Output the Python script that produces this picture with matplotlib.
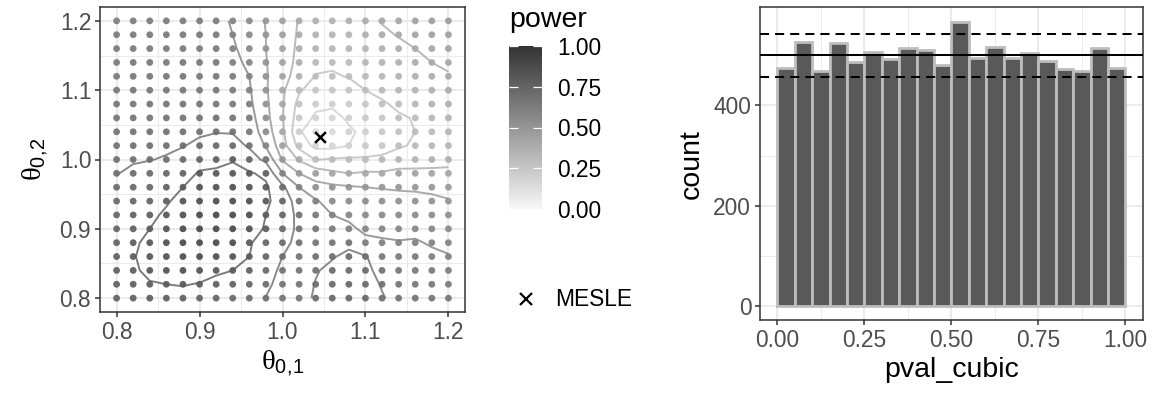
import numpy as np
import matplotlib
matplotlib.use('Agg')
import matplotlib.pyplot as plt
from matplotlib.colors import LinearSegmentedColormap
from matplotlib.lines import Line2D

plt.rcParams['font.family'] = ['Liberation Sans', 'DejaVu Sans']
plt.rcParams['mathtext.fontset'] = 'custom'
plt.rcParams['mathtext.rm'] = 'Liberation Serif'
plt.rcParams['mathtext.sf'] = 'Liberation Sans'

# ---- left panel data: power on a 21 x 21 grid ----
theta1 = [0.80, 0.82, 0.84, 0.86, 0.88, 0.90, 0.92, 0.94, 0.96, 0.98, 1.00,
          1.02, 1.04, 1.06, 1.08, 1.10, 1.12, 1.14, 1.16, 1.18, 1.20]
theta2 = [0.80, 0.82, 0.84, 0.86, 0.88, 0.90, 0.92, 0.94, 0.96, 0.98, 1.00,
          1.02, 1.04, 1.06, 1.08, 1.10, 1.12, 1.14, 1.16, 1.18, 1.20]
# rows listed from theta2 = 1.20 (top) down to 0.80 (bottom)
power_rows = [
    [.62, .625, .63, .63, .63, .63, .63, .59, .55, .495, .445, .395, .365, .35, .36, .38, .405, .42, .435, .45, .46],
    [.625, .63, .635, .635, .635, .635, .635, .60, .56, .50, .445, .39, .355, .345, .35, .365, .385, .405, .42, .435, .445],
    [.63, .635, .64, .64, .64, .64, .64, .61, .57, .50, .44, .385, .345, .335, .34, .35, .365, .38, .40, .415, .43],
    [.635, .64, .645, .645, .645, .645, .645, .62, .585, .505, .435, .38, .325, .315, .32, .335, .35, .365, .38, .40, .41],
    [.64, .645, .65, .65, .65, .65, .65, .63, .60, .51, .43, .365, .295, .29, .305, .32, .335, .35, .365, .38, .395],
    [.645, .65, .655, .66, .655, .655, .655, .64, .61, .51, .415, .31, .26, .25, .26, .30, .32, .335, .35, .365, .38],
    [.65, .66, .665, .665, .665, .665, .665, .655, .62, .52, .41, .27, .22, .21, .22, .25, .29, .315, .335, .35, .36],
    [.66, .665, .67, .675, .675, .675, .68, .67, .64, .53, .405, .25, .185, .18, .21, .23, .25, .29, .305, .325, .34],
    [.67, .675, .68, .685, .685, .69, .697, .695, .66, .55, .42, .21, .15, .15, .19, .215, .24, .27, .30, .315, .33],
    [.68, .685, .69, .69, .697, .715, .73, .73, .69, .59, .44, .27, .17, .17, .20, .23, .25, .29, .31, .325, .34],
    [.69, .695, .698, .705, .725, .76, .775, .795, .74, .68, .49, .39, .295, .31, .315, .315, .325, .34, .345, .36, .375],
    [.698, .71, .72, .735, .76, .81, .815, .82, .81, .78, .60, .50, .46, .42, .40, .41, .41, .43, .43, .425, .42],
    [.71, .725, .74, .76, .80, .84, .845, .85, .84, .815, .72, .60, .53, .52, .51, .50, .495, .49, .488, .485, .475],
    [.725, .74, .76, .79, .83, .865, .87, .87, .86, .82, .75, .66, .61, .56, .54, .54, .535, .53, .525, .515, .505],
    [.74, .76, .78, .815, .855, .88, .885, .88, .87, .80, .745, .68, .645, .60, .58, .56, .56, .555, .55, .54, .53],
    [.755, .775, .80, .835, .87, .89, .89, .88, .865, .785, .735, .685, .665, .63, .62, .58, .58, .575, .575, .565, .555],
    [.765, .79, .815, .845, .875, .885, .885, .87, .81, .755, .72, .68, .675, .665, .685, .625, .61, .605, .61, .59, .58],
    [.77, .795, .825, .845, .865, .87, .86, .84, .80, .745, .70, .675, .685, .695, .715, .705, .66, .64, .63, .62, .605],
    [.77, .79, .815, .83, .845, .84, .815, .80, .77, .73, .685, .67, .695, .715, .73, .715, .68, .66, .65, .64, .625],
    [.765, .78, .795, .80, .805, .795, .775, .76, .74, .715, .675, .67, .703, .725, .74, .725, .695, .675, .66, .65, .64],
    [.76, .77, .78, .775, .77, .76, .745, .73, .72, .698, .67, .67, .71, .73, .74, .73, .705, .68, .67, .66, .65],
]
contour_levels = [0.2, 0.3, 0.4, 0.5, 0.6, 0.7, 0.8]
mesle_x, mesle_y = 1.045, 1.033

# ---- right panel data: histogram of pval_cubic ----
bin_edges = [0.00, 0.05, 0.10, 0.15, 0.20, 0.25, 0.30, 0.35, 0.40, 0.45, 0.50,
             0.55, 0.60, 0.65, 0.70, 0.75, 0.80, 0.85, 0.90, 0.95, 1.00]
counts = [474, 526, 469, 524, 486, 507, 493, 514, 511, 480,
          567, 494, 517, 495, 504, 489, 473, 469, 514, 474]
expected = 500
band_low, band_high = 457.3, 542.7

tick_fs = 16.4
title_fs = 20.5
grid_c = '#ebebeb'
border_c = '#333333'
cmap = LinearSegmentedColormap.from_list('power', ['#f7f7f7', '#333333'])


def style_axes(ax):
    ax.set_axisbelow(True)
    ax.grid(which='major', color=grid_c, linewidth=1.45)
    ax.grid(which='minor', color=grid_c, linewidth=0.75)
    for s in ax.spines.values():
        s.set_color(border_c)
        s.set_linewidth(1.1)
    ax.tick_params(which='major', length=3.8, width=1.1, color=border_c,
                   labelcolor='#4d4d4d', labelsize=tick_fs, pad=2.5)
    ax.tick_params(which='minor', length=0)


fig = plt.figure(figsize=(11.54, 3.93), dpi=100)

# left panel
ax1 = fig.add_axes([100 / 1154, 1 - 312 / 393, 365 / 1154, 305 / 393])
X, Y = np.meshgrid(theta1, theta2)
P = np.flipud(np.array(power_rows))
sc = ax1.scatter(X.ravel(), Y.ravel(), c=P.ravel(), cmap=cmap, vmin=0, vmax=1,
                 s=24, linewidths=0, alpha=0.93, zorder=2)
ax1.contour(theta1, theta2, P, levels=contour_levels, cmap=cmap, vmin=0, vmax=1,
            linewidths=1.4, alpha=0.8, zorder=3)
ax1.scatter([mesle_x], [mesle_y], marker='x', color='black', s=60,
            linewidths=1.8, zorder=4)
ax1.set_xlim(0.78, 1.22)
ax1.set_ylim(0.78, 1.22)
ax1.set_xticks([0.8, 0.9, 1.0, 1.1, 1.2])
ax1.set_yticks([0.8, 0.9, 1.0, 1.1, 1.2])
ax1.set_xticks([0.85, 0.95, 1.05, 1.15], minor=True)
ax1.set_yticks([0.85, 0.95, 1.05, 1.15], minor=True)
ax1.set_xticklabels(['0.8', '0.9', '1.0', '1.1', '1.2'])
ax1.set_yticklabels(['0.8', '0.9', '1.0', '1.1', '1.2'])
style_axes(ax1)
ax1.set_xlabel(r'$\mathrm{\theta}_{\mathsf{0,\!1}}$', fontsize=title_fs, labelpad=4)
ax1.set_ylabel(r'$\mathrm{\theta}_{\mathsf{0,\!2}}$', fontsize=title_fs, labelpad=6)

# colour legend
fig.text(509 / 1154, 1 - 20 / 393, 'power', fontsize=title_fs, va='center', ha='left')
cax = fig.add_axes([509 / 1154, 1 - 209 / 393, 33 / 1154, 163 / 393])
cb = fig.colorbar(sc, cax=cax, ticks=[0, 0.25, 0.5, 0.75, 1.0], alpha=1)
cb.solids.set_alpha(1)
cb.outline.set_visible(False)
cb.ax.set_yticklabels(['0.00', '0.25', '0.50', '0.75', '1.00'])
cax.tick_params(axis='y', direction='in', color='white', length=6.5, width=0.9,
                left=True, right=True, labelleft=False, labelright=True,
                labelsize=tick_fs, pad=11)

mesle_handle = Line2D([], [], marker='x', color='black', linestyle='none',
                      markersize=8, markeredgewidth=1.6)
fig.legend(handles=[mesle_handle], labels=['MESLE'], loc='center left',
           bbox_to_anchor=(512 / 1154, 1 - 300 / 393), frameon=False,
           fontsize=tick_fs, handlelength=1.2, handletextpad=0.7,
           borderpad=0, borderaxespad=0)

# right panel
ax2 = fig.add_axes([760 / 1154, 1 - 320 / 393, 382.7 / 1154, 312.7 / 393])
ax2.bar(bin_edges[:-1], counts, width=np.diff(bin_edges), align='edge',
        color='#595959', edgecolor='#bdbdbd', linewidth=2.0, zorder=2)
ax2.axhline(expected, color='black', linewidth=1.45, zorder=3)
ax2.axhline(band_low, color='black', linewidth=1.45, dashes=(4.5, 3), zorder=3)
ax2.axhline(band_high, color='black', linewidth=1.45, dashes=(4.5, 3), zorder=3)
ax2.set_xlim(-0.05, 1.05)
ax2.set_ylim(-28.4, 596)
ax2.set_xticks([0, 0.25, 0.5, 0.75, 1.0])
ax2.set_xticklabels(['0.00', '0.25', '0.50', '0.75', '1.00'])
ax2.set_xticks([0.125, 0.375, 0.625, 0.875], minor=True)
ax2.set_yticks([0, 200, 400])
ax2.set_yticks([100, 300, 500], minor=True)
style_axes(ax2)
ax2.set_xlabel('pval_cubic', fontsize=title_fs, labelpad=4)
ax2.set_ylabel('count', fontsize=title_fs, labelpad=6)

fig.savefig('out.png', dpi=100)
